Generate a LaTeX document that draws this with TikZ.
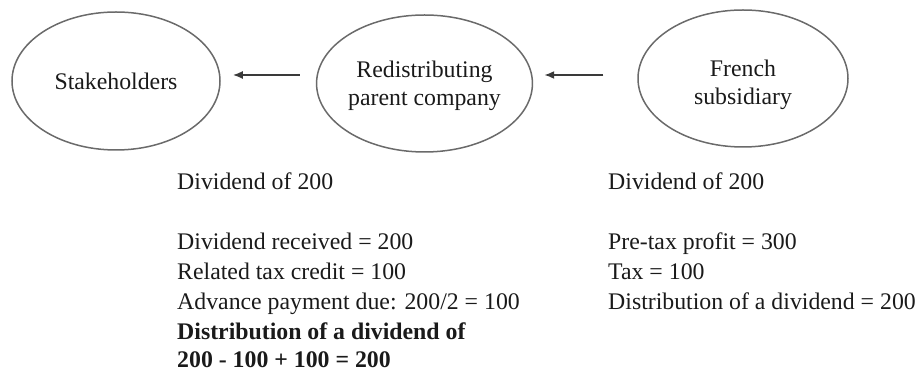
\documentclass[tikz,border=0pt]{standalone}
\usepackage{fontspec}
\setmainfont{Liberation Serif}
\usetikzlibrary{shapes.geometric,arrows.meta}
\definecolor{rim}{HTML}{6A6A6A}
\definecolor{ink}{HTML}{1A1A1A}
\definecolor{flowcol}{HTML}{3A3A3A}
\begin{document}
\begin{tikzpicture}[x=1pt,y=1pt,
  entity/.style={draw=rim, line width=1.5pt, ellipse, inner sep=0pt,
    minimum width=210pt, minimum height=137pt, align=center, text=ink,
    font=\fontsize{23.8}{28}\selectfont},
  flow/.style={draw=flowcol, line width=1.8pt, -{Latex[length=10pt,width=8pt]}},
  note/.style={anchor=base west, inner sep=0pt, text=ink,
    font=\fontsize{23.8}{28}\selectfont}]
\useasboundingbox (0,0) rectangle (922,374);

% the three parties
\node[entity, minimum width=208pt, minimum height=138pt] (stake) at (116,293) {Stakeholders};
\node[entity] (red) at (424.5,290.5) {\rule{0pt}{22pt}Redistributing\\parent company};
\node[entity] (french) at (743,295.5) {\rule{0pt}{30pt}French\\subsidiary};

% dividend flows
\coordinate (lane) at (0,299);
\draw[flow, shorten <=16pt, shorten >=12pt] (red.west |- lane) -- (stake.east |- lane);
\draw[flow, shorten <=34pt, shorten >=11pt] (french.west |- lane) -- (red.east |- lane);

% parent company figures
\node[note] (pdiv) at (177,184) {Dividend of 200};
\node[note] (prec) at (177,124) {Dividend received = 200};
\node[note] (pcred) at (177,94) {Related tax credit = 100};
\node[note] (padv) at (177,64) {Advance payment due: 200/2 = 100};
\node[note, font=\fontsize{23.8}{28}\selectfont\bfseries] (pdist) at (177,34) {Distribution of a dividend of};
\node[note, font=\fontsize{23.8}{28}\selectfont\bfseries] (psum) at (177,6) {200 - 100 + 100 = 200};

% subsidiary figures
\node[note] (sdiv) at (608,184) {Dividend of 200};
\node[note] (sprof) at (608,124) {Pre-tax profit = 300};
\node[note] (stax) at (608,94) {Tax = 100};
\node[note] (sdist) at (608,64) {Distribution of a dividend = 200};
\end{tikzpicture}
\end{document}
